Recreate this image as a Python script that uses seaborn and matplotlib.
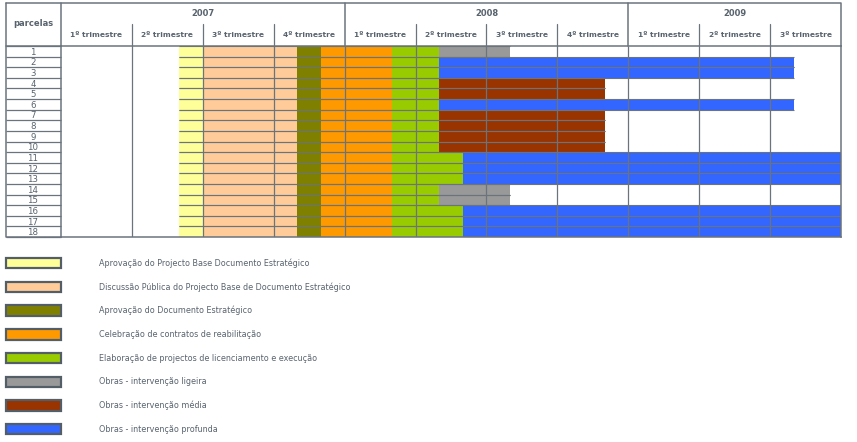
import matplotlib
matplotlib.use("Agg")
import matplotlib.pyplot as plt
import matplotlib.transforms as mtransforms
from matplotlib.patches import Patch
import numpy as np
import pandas as pd
import seaborn as sns

sns.set_style("white")
plt.rcParams["font.family"] = ["DejaVu Sans"]

# ---- data (time in months, 0 = January 2007) ----
parcelas = [str(i) for i in range(1, 19)]
anos = ["2007", "2008", "2009"]
trimestres = ["1º trimestre", "2º trimestre", "3º trimestre", "4º trimestre",
              "1º trimestre", "2º trimestre", "3º trimestre", "4º trimestre",
              "1º trimestre", "2º trimestre", "3º trimestre"]

fases = ["Aprovação do Projecto Base Documento Estratégico",
         "Discussão Pública do Projecto Base de Documento Estratégico",
         "Aprovação do Documento Estratégico",
         "Celebração de contratos de reabilitação",
         "Elaboração de projectos de licenciamento e execução",
         "Obras - intervenção ligeira",
         "Obras - intervenção média",
         "Obras - intervenção profunda"]
cores = ["#ffff99", "#ffcc99", "#808000", "#ff9900",
         "#99cc00", "#999999", "#993300", "#3366ff"]

# common phases (same for every parcel): start, end
inicio_comum = [5, 6, 10, 11]
fim_comum = [6, 10, 11, 14]

# licensing projects and works, per parcel
fim_projecto = [16, 16, 16, 16, 16, 16, 16, 16, 16, 16, 17, 17, 17, 16, 16, 17, 17, 17]
tipo_obra = [5, 7, 7, 6, 6, 7, 6, 6, 6, 6, 7, 7, 7, 5, 5, 7, 7, 7]
fim_obra = [19, 31, 31, 23, 23, 31, 23, 23, 23, 23, 33, 33, 33, 19, 19, 33, 33, 33]

rows = []
for i, p in enumerate(parcelas):
    for f, (a, b) in enumerate(zip(inicio_comum, fim_comum)):
        rows.append((i, f, a, b))
    rows.append((i, 4, fim_comum[-1], fim_projecto[i]))
    rows.append((i, tipo_obra[i], fim_projecto[i], fim_obra[i]))
tarefas = pd.DataFrame(rows, columns=["linha", "fase", "inicio", "fim"])

# ---- figure layout (pixels) ----
W, H = 857, 442
lc = "#6b747d"
tc = "#58636e"
x0, x1, y0, y1 = 61, 841, 46, 237
fig = plt.figure(figsize=(W / 100, H / 100), dpi=100)
ax = fig.add_axes([x0 / W, 1 - y1 / H, (x1 - x0) / W, (y1 - y0) / H])

n_mes = 3 * len(trimestres)
ax.set_xlim(0, n_mes)
ax.set_ylim(len(parcelas), 0)

ax.barh(tarefas["linha"] + 0.5, tarefas["fim"] - tarefas["inicio"], left=tarefas["inicio"],
        height=1.0, color=[cores[f] for f in tarefas["fase"]], linewidth=0, zorder=1)

# row separators across the coloured bars
for y in (tarefas["linha"], tarefas["linha"] + 1):
    ax.hlines(y, tarefas["inicio"], tarefas["fim"], color=lc, lw=0.8, zorder=2)

# quarter grid lines over bars
ax.vlines(np.arange(3, n_mes, 3), 0, len(parcelas), color=lc, lw=0.9, zorder=3)

for s in ax.spines.values():
    s.set_color(lc)
    s.set_linewidth(1.1)
    s.set_zorder(4)

ax.set_xticks([])
ax.set_yticks(np.arange(len(parcelas)) + 0.5, parcelas)
ax.tick_params(axis="y", length=0, pad=(x0 - 33) * 0.72, labelsize=6.2, labelcolor=tc)
plt.setp(ax.get_yticklabels(), ha="center")

ah = y1 - y0
aw = x1 - x0
tr_x = mtransforms.blended_transform_factory(ax.transData, ax.transAxes)
tr_y = mtransforms.blended_transform_factory(ax.transAxes, ax.transData)

# parcel column row lines
lx = -(x0 - 6) / aw
ax.hlines(np.arange(len(parcelas) + 1), lx, 0, transform=tr_y, color=lc, lw=0.9, clip_on=False)

# header
top = 1 + (y0 - 3) / ah
q_top = 1 + (y0 - 24) / ah
for m in np.arange(3, n_mes, 3):
    if m % 12 == 0:
        ax.plot([m, m], [1, top], transform=tr_x, color=lc, lw=1.1, clip_on=False)
    else:
        ax.plot([m, m], [1, q_top], transform=tr_x, color=lc, lw=0.9, clip_on=False)
ax.plot([lx, 1, 1], [top, top, 1], transform=ax.transAxes, color=lc, lw=1.1, clip_on=False)
ax.plot([lx, lx, 0], [top, 0, 0], transform=ax.transAxes, color=lc, lw=1.1, clip_on=False)
ax.plot([0, 0], [1, top], transform=ax.transAxes, color=lc, lw=1.1, clip_on=False)
ax.plot([lx, 0], [1, 1], transform=ax.transAxes, color=lc, lw=1.1, clip_on=False)

for k, ano in enumerate(anos):
    a, b = 12 * k, min(12 * (k + 1), n_mes)
    ax.text((a + b) / 2, 1 + (y0 - 14) / ah, ano, transform=tr_x, ha="center", va="center",
            fontsize=6.0, fontweight="bold", color=tc)
for q, lab in enumerate(trimestres):
    ax.text(3 * q + 1.5, 1 + (y0 - 35) / ah, lab, transform=tr_x, ha="center", va="center",
            fontsize=5.4, fontweight="bold", color=tc)
ax.text(-(x0 - 33) / aw, 1 + (y0 - 24) / ah, "parcelas", transform=ax.transAxes,
        ha="center", va="center", fontsize=6.0, fontweight="bold", color=tc)

# legend
fs = 5.8
fpx = fs * 100 / 72
handles = [Patch(facecolor=c, edgecolor="#545e66", linewidth=1.6, label=l)
           for c, l in zip(cores, fases)]
fig.legend(handles=handles, loc="upper left", bbox_to_anchor=(6 / W, 1 - 258 / H),
           frameon=False, borderaxespad=0, borderpad=0, fontsize=fs, labelcolor=tc,
           handlelength=55 / fpx, handleheight=13 / fpx, handletextpad=38 / fpx,
           labelspacing=(23.7 - 13 + 2.6) / fpx)

fig.savefig("out.png", dpi=100)
